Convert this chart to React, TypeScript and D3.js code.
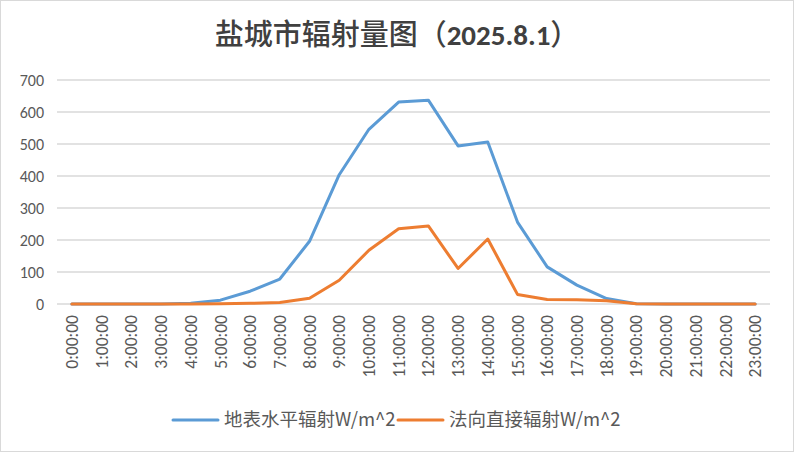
import React from 'react';
import * as d3 from 'd3';

// hourly categories
const hours = d3.range(24).map(h => `${h}:00:00`);

// 地表水平辐射 W/m^2
const ghi = [0, 0, 0, 0, 2, 12, 40, 78, 196, 404, 546, 631, 637, 494, 506, 256, 116, 59, 17, 1, 0, 0, 0, 0];
// 法向直接辐射 W/m^2
const dni = [0, 0, 0, 0, 0, 1, 2, 5, 18, 74, 168, 235, 244, 111, 203, 30, 14, 13, 10, 1, 0, 0, 0, 0];

const yTicks = [0, 100, 200, 300, 400, 500, 600, 700];

const SERIES = [
  { name: '地表水平辐射W/m^2', values: ghi, color: '#5B9BD5' },
  { name: '法向直接辐射W/m^2', values: dni, color: '#ED7D31' },
];

const W = 794;
const H = 452;
const FONT = 'Carlito, Calibri, Lato, "Noto Sans CJK SC", sans-serif';

export default function App() {
  const margin = { top: 80, right: 24, bottom: 148, left: 57 };

  const x = d3.scaleBand<string>()
    .domain(hours)
    .range([margin.left, W - margin.right]);

  const y = d3.scaleLinear()
    .domain([0, 700])
    .range([H - margin.bottom, margin.top]);

  const line = d3.line<number>()
    .x((_, i) => x(hours[i])! + x.bandwidth() / 2)
    .y(d => y(d));

  // legend positions, Excel style: line then label, packed together
  const legendX = [173, 398];

  return (
    <svg
      width={W}
      height={H}
      viewBox={`0 0 ${W} ${H}`}
      style={{ position: 'absolute', left: 0, top: 0, background: '#fff' }}
    >
      <rect x={0.5} y={0.5} width={W - 1} height={H - 1} fill="#fff" stroke="#d9d9d9" />

      {/* title */}
      <text x={W / 2} y={45} textAnchor="middle" fontSize={29} fill="#404040"
        fontWeight={500} fontFamily='"Noto Sans CJK SC", sans-serif'>
        <tspan>盐城市辐射量图（</tspan>
        <tspan fontWeight="bold" fontFamily={FONT}>2025.8.1</tspan>
        <tspan>）</tspan>
      </text>

      {/* grid + y labels */}
      {yTicks.map(t => (
        <g key={t}>
          <line x1={margin.left} x2={W - margin.right} y1={y(t)} y2={y(t)}
            stroke="#d9d9d9" strokeWidth={1.3} />
          <text x={44} y={y(t)} dy="0.35em" textAnchor="end" fontSize={16}
            fill="#595959" fontFamily={FONT}>{t}</text>
        </g>
      ))}

      {/* x labels */}
      {hours.map(h => {
        const cx = x(h)! + x.bandwidth() / 2;
        return (
          <text key={h} transform={`translate(${cx},${y(0) + 11}) rotate(-90)`}
            dy="0.35em" textAnchor="end" fontSize={17.5} fill="#595959" fontFamily={FONT}>
            {h}
          </text>
        );
      })}

      {/* series lines */}
      {SERIES.map(s => (
        <path key={s.name} d={line(s.values)!} fill="none" stroke={s.color}
          strokeWidth={3} strokeLinejoin="round" strokeLinecap="round" />
      ))}

      {/* legend */}
      {SERIES.map((s, i) => {
        const lx = legendX[i];
        return (
          <g key={s.name}>
            <line x1={lx} x2={lx + 45} y1={420} y2={420} stroke={s.color}
              strokeWidth={3} strokeLinecap="round" />
            <text x={lx + 51} y={420} dy="0.35em" fontSize={18.5} fill="#595959"
              fontFamily={'"Noto Sans CJK SC", ' + FONT}>{s.name}</text>
          </g>
        );
      })}
    </svg>
  );
}
